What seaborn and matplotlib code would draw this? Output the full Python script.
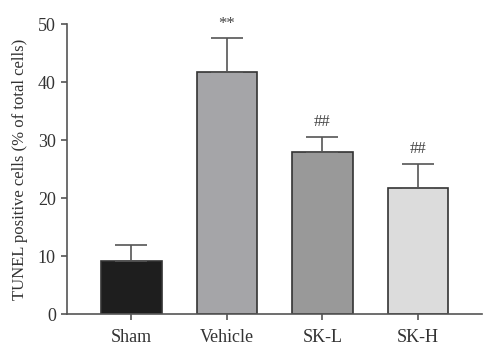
import matplotlib
matplotlib.use("Agg")
import matplotlib.pyplot as plt
import seaborn as sns
import numpy as np
import pandas as pd

# groups and values
groups = ["Sham", "Vehicle", "SK-L", "SK-H"]
means = [9.2, 41.7, 28.0, 21.7]
errors = [2.8, 5.9, 2.6, 4.2]
marks = ["", "**", "##", "##"]
colors = ["#1e1e1e", "#a5a4a8", "#999999", "#dcdcdc"]

df = pd.DataFrame({"group": groups, "value": means})

sns.set_style("ticks")
plt.rcParams["font.family"] = ["Liberation Serif", "DejaVu Serif"]

fig = plt.figure(figsize=(5, 3.59), dpi=100)
ax = fig.add_axes([0.134, 0.125, 0.83, 0.808])

sns.barplot(data=df, x="group", y="value", hue="group", palette=colors,
            width=0.63, edgecolor="#333333", linewidth=1.2, legend=False, ax=ax)

# upper-only error bars
ax.errorbar(np.arange(len(groups)), means, yerr=[np.zeros(len(errors)), errors],
            fmt="none", ecolor="#555555", elinewidth=1.2, capsize=11.5, capthick=1.2)

for i, (m, e, s) in enumerate(zip(means, errors, marks)):
    if s:
        ax.text(i, m + e + 1.1, s, ha="center", va="bottom", fontsize=12, color="#444444")

ax.set_ylim(0, 50)
ax.set_xlim(-0.675, 3.67)
ax.set_yticks(range(0, 51, 10))
ax.set_xlabel("")
ax.set_ylabel("TUNEL positive cells (% of total cells)", fontsize=12, color="#333333", labelpad=7)
ax.tick_params(axis="both", labelsize=13, colors="#555555", labelcolor="#333333",
               length=4.5, width=1.2)
ax.tick_params(axis="x", pad=6)
for side in ["top", "right"]:
    ax.spines[side].set_visible(False)
for side in ["left", "bottom"]:
    ax.spines[side].set_color("#555555")
    ax.spines[side].set_linewidth(1.2)

fig.savefig("out.png", dpi=100)
